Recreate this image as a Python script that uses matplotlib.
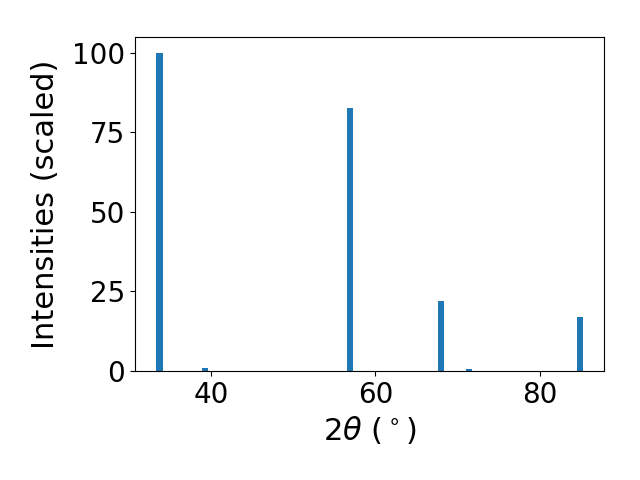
import matplotlib
matplotlib.use('Agg')
from matplotlib import pyplot as plt
from matplotlib.ticker import MultipleLocator

# peak positions (2theta, degrees) and scaled intensities
two_theta = [33.76, 39.27, 56.86, 67.93, 71.40, 84.82]
intensities = [100.0, 1.1, 82.6, 22.1, 0.5, 17.1]

fig = plt.figure(figsize=(6.4, 4.8), dpi=100)
ax = plt.gca()
plt.bar(two_theta, intensities, width=0.75)
plt.xlabel(r'$2\theta$ ($^\circ$)', fontsize=22)
plt.ylabel('Intensities (scaled)', fontsize=22, labelpad=9)
ax.tick_params(labelsize=20)
ax.xaxis.set_major_locator(MultipleLocator(20))
ax.yaxis.set_major_locator(MultipleLocator(25))
plt.subplots_adjust(left=0.211, right=0.944, top=0.923, bottom=0.227)
plt.savefig('out.png')
